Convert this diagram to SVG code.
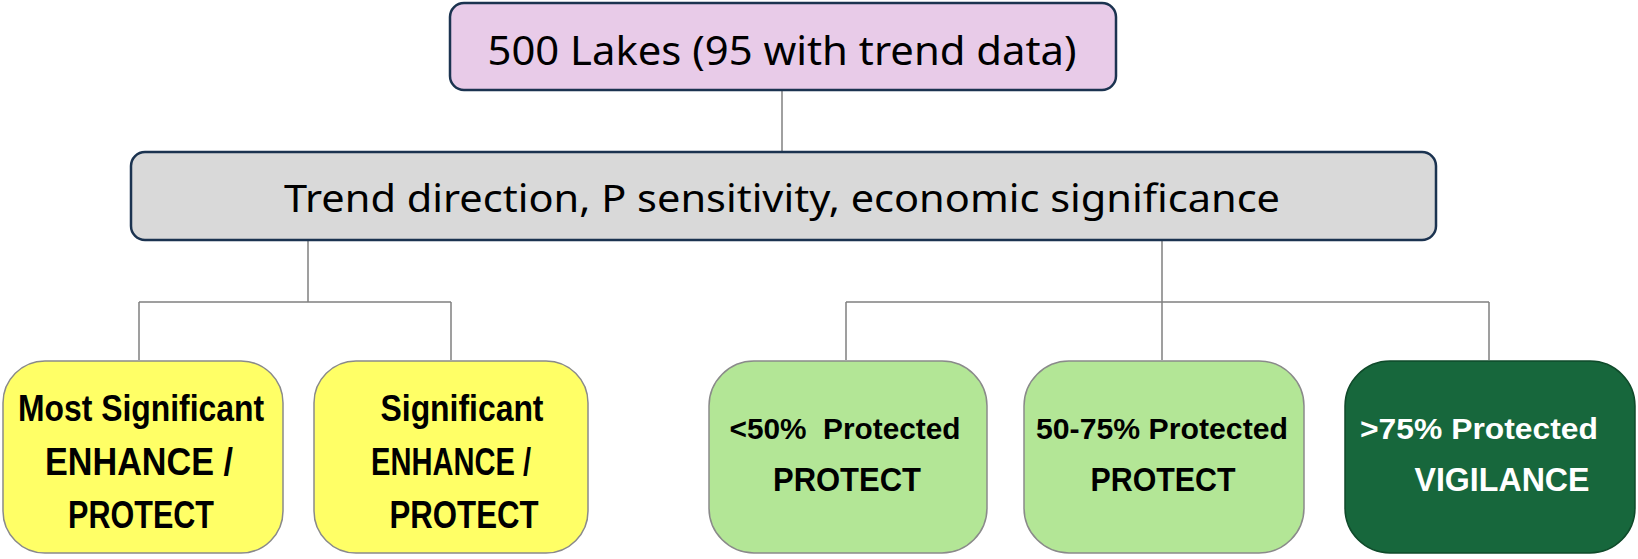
<svg xmlns="http://www.w3.org/2000/svg" width="1638" height="559" viewBox="0 0 1638 559">
<style>
.hdr{font-family:"Noto Sans","Open Sans",sans-serif;fill:#000;text-anchor:middle}
.lbl{font-family:"Liberation Sans",Arial,sans-serif;font-weight:bold;fill:#000;text-anchor:middle}
.wht{fill:#fff}
.conn{fill:none;stroke:#808080;stroke-width:1.5}
.navy{stroke:#1b3350;stroke-width:2.5}
.soft{stroke:#8a8a8a;stroke-width:1.5}
</style>
<rect width="1638" height="559" fill="#fff"/>
<g id="connectors">
<path class="conn" d="M782,90 V152"/>
<path class="conn" d="M308,240 V302 M139,302 H451 M139,302 V360 M451,302 V360"/>
<path class="conn" d="M1162,240 V360 M846,302 H1489 M846,302 V360 M1489,302 V360"/>
</g>
<g id="n-root">
<rect class="navy" x="450" y="3" width="666" height="87" rx="14" fill="#e8cbe8"/>
<text class="hdr" x="782" y="65" font-size="40" textLength="589" lengthAdjust="spacingAndGlyphs">500 Lakes (95 with trend data)</text>
</g>
<g id="n-criteria">
<rect class="navy" x="131" y="152" width="1305" height="88" rx="14" fill="#d9d9d9"/>
<text class="hdr" x="782" y="212" font-size="39" textLength="996" lengthAdjust="spacingAndGlyphs">Trend direction, P sensitivity, economic significance</text>
</g>
<g id="n-most-sig">
<rect class="soft" x="3" y="361" width="280" height="192" rx="42" fill="#ffff66"/>
<text class="lbl" x="141" y="421" font-size="36" textLength="246" lengthAdjust="spacingAndGlyphs">Most Significant</text>
<text class="lbl" x="139" y="475" font-size="38" textLength="188" lengthAdjust="spacingAndGlyphs">ENHANCE /</text>
<text class="lbl" x="141" y="528" font-size="38" textLength="146" lengthAdjust="spacingAndGlyphs">PROTECT</text>
</g>
<g id="n-sig">
<rect class="soft" x="314" y="361" width="274" height="192" rx="42" fill="#ffff66"/>
<text class="lbl" x="462" y="421" font-size="36" textLength="163" lengthAdjust="spacingAndGlyphs">Significant</text>
<text class="lbl" x="451" y="475" font-size="38" textLength="160" lengthAdjust="spacingAndGlyphs">ENHANCE /</text>
<text class="lbl" x="464" y="528" font-size="38" textLength="149" lengthAdjust="spacingAndGlyphs">PROTECT</text>
</g>
<g id="n-lt50">
<rect class="soft" x="709" y="361" width="278" height="192" rx="45" fill="#b3e696"/>
<text class="lbl" x="845" y="439" font-size="29" font-weight="normal" textLength="231" lengthAdjust="spacingAndGlyphs" xml:space="preserve">&lt;50%  Protected</text>
<text class="lbl" x="847" y="491" font-size="33" textLength="148" lengthAdjust="spacingAndGlyphs">PROTECT</text>
</g>
<g id="n-50-75">
<rect class="soft" x="1024" y="361" width="280" height="192" rx="45" fill="#b3e696"/>
<text class="lbl" x="1162" y="439" font-size="29" font-weight="normal" textLength="252" lengthAdjust="spacingAndGlyphs">50-75% Protected</text>
<text class="lbl" x="1163" y="491" font-size="33" textLength="145" lengthAdjust="spacingAndGlyphs">PROTECT</text>
</g>
<g id="n-gt75">
<rect x="1345" y="361" width="290" height="192" rx="45" fill="#17673c" stroke="#0f4a2a" stroke-width="1.5"/>
<text class="lbl wht" x="1479" y="439" font-size="29" font-weight="normal" textLength="238" lengthAdjust="spacingAndGlyphs">&gt;75% Protected</text>
<text class="lbl wht" x="1502" y="491" font-size="33" textLength="175" lengthAdjust="spacingAndGlyphs">VIGILANCE</text>
</g>
</svg>
